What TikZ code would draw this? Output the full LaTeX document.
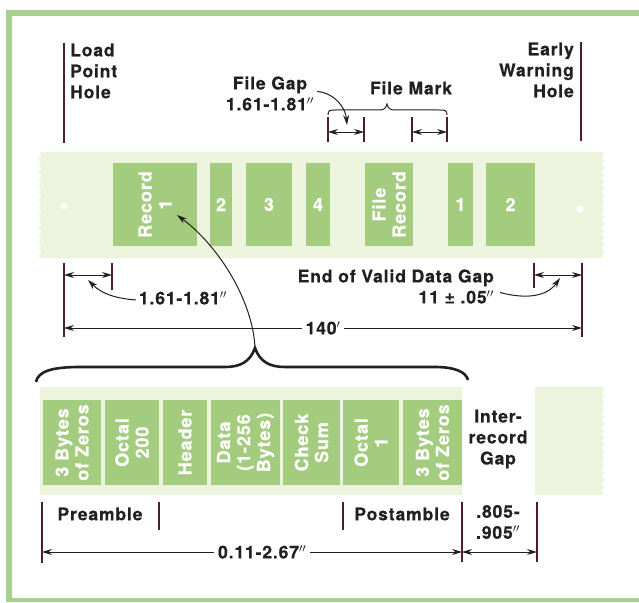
\documentclass[tikz,border=0pt]{standalone}
\usepackage{fontspec}
\setmainfont{TeX Gyre Heros}[LetterSpace=5, BoldFeatures={FakeBold=0.5}]
\usetikzlibrary{arrows.meta,decorations.pathmorphing,positioning}
\definecolor{mframe}{HTML}{A8D08C}
\definecolor{mtape}{HTML}{EDF4DE}
\definecolor{mblock}{HTML}{A3CC7F}
\definecolor{mink}{HTML}{231F20}
\definecolor{mline}{HTML}{4B1E30}
\tikzstyle{lbl}=[text=mink, font=\fontsize{17.5}{21}\selectfont\bfseries, align=center, inner sep=0pt]
\tikzstyle{blk}=[fill=mblock, text=white, font=\fontsize{18}{20}\selectfont\bfseries, align=center, inner sep=0pt]
\tikzstyle{vblk}=[blk, rotate=90]
\tikzstyle{bar}=[mline, line width=1.1pt]
\tikzstyle{dim}=[mink, line width=0.9pt, >={Stealth[length=10pt,width=6pt]}, <->]
\tikzstyle{callout}=[mink, line width=1pt, >={Stealth[length=10pt,width=6pt]}, ->]
\tikzstyle{wavy}=[decoration={zigzag, segment length=7pt, amplitude=1.5pt}]

\begin{document}
\begin{tikzpicture}[x=1pt, y=1pt]
    \useasboundingbox (0,0) rectangle (639,602);
    % frame
    \fill[mframe] (6,0) rectangle (12,592) (6,586) rectangle (639,592) (6,0) rectangle (639,4);

    % holes on the tape
    \draw[bar] (64,559) -- (64,459);
    \draw[bar] (581,560) -- (581,461);
    \node (loadtxt) [lbl, align=left, anchor=west] at (70,531) {Load\\Point\\Hole};
    \node (warntxt) [lbl, align=right, anchor=east] at (574,532) {Early\\Warning\\Hole};

    % file gap and file mark
    \node (fgtxt) [lbl] at (270,508.5) {File Gap\\1.61-1.81$''$};
    \node (fmtxt) [lbl] at (411,514) {File Mark};
    \draw[mink, line width=1pt] (328,487) .. controls (328,492) and (330,492) .. (336,492) -- (380,492) .. controls (384,492) and (386,494) .. (387,498) .. controls (388,494) and (390,492) .. (394,492) -- (439,492) .. controls (445,492) and (447,492) .. (447,487);
    \coordinate (fg1) at (328,470);
    \coordinate (fg2) at (364,470);
    \coordinate (fm1) at (412,470);
    \coordinate (fm2) at (447,470);
    \coordinate (fgtip) at (347,477);
    \draw[bar] (fg1) ++(0,15) -- +(0,-25);
    \draw[bar] (fg2) ++(0,15) -- +(0,-25);
    \draw[bar] (fm1) ++(0,15) -- +(0,-25);
    \draw[bar] (fm2) ++(0,15) -- +(0,-25);
    \draw[dim] (fg1) -- (fg2);
    \draw[dim] (fm1) -- (fm2);
    \draw[callout] ([xshift=3pt,yshift=2pt]fgtxt.east) to[out=-5, in=95] (fgtip);

    % the tape
    \fill[mtape] (40,344) decorate[wavy]{-- (40,450)} -- (603,450) decorate[wavy]{-- (603,344)} -- cycle;
    \fill[white] (64,396) circle (3.5) (580,393) circle (3.5);
    \node (rec1) [vblk, minimum width=83, minimum height=84] at (155,397.5) {Record\\1};
    \node (rec2) [blk, minimum width=22, minimum height=83] at (221,397.5) {2};
    \node (rec3) [blk, minimum width=46, minimum height=83] at (269,397.5) {3};
    \node (rec4) [blk, minimum width=24, minimum height=83] at (318,397.5) {4};
    \node (frec) [vblk, minimum width=83, minimum height=48] at (389,397.5) {File\\Record};
    \node (frec1) [blk, minimum width=25, minimum height=83] at (460.5,397.5) {1};
    \node (frec2) [blk, minimum width=49, minimum height=83] at (510.5,397.5) {2};

    % gaps at both ends
    \coordinate (lp1) at (64,327);
    \coordinate (lp2) at (112,327);
    \coordinate (ew1) at (534,327);
    \coordinate (ew2) at (582,327);
    \coordinate (lptip) at (88,322);
    \coordinate (ewtip) at (560,324);
    \draw[bar] (lp1) ++(0,12) -- +(0,-74);
    \draw[bar] (lp2) ++(0,12) -- +(0,-27);
    \draw[bar] (ew1) ++(0,12) -- +(0,-25);
    \draw[bar] (ew2) ++(0,12) -- +(0,-74);
    \draw[dim] (lp1) -- (lp2);
    \draw[dim] (ew1) -- (ew2);
    \node (gaptxt) [lbl] at (183,304) {1.61-1.81$''$};
    \node (evdtxt) [lbl, align=right, anchor=east] at (494,315.5) {End of Valid Data Gap\\11 ± .05$''$};
    \draw[callout] ([xshift=-3pt,yshift=-2pt]gaptxt.west) to[out=175, in=-45] (lptip);
    \draw[callout] ([xshift=6pt,yshift=-6pt]evdtxt.east) to[out=-15, in=-125] (ewtip);
    \coordinate (t1) at (64,274);
    \coordinate (t2) at (582,274);
    \draw[dim] (t1) -- node[lbl, fill=white, inner xsep=4pt] (tlen) {140$'$} (t2);

    % record expanded
    \coordinate (bracetip) at (255,254);
    \coordinate (rectip) at (177,387);
    \draw[mink, line width=2.6pt] (36,220) .. controls (38,230) and (50,235) .. (80,235) -- (225,235) .. controls (240,235) and (250,240) .. (bracetip) .. controls (260,240) and (270,235) .. (285,235) -- (435,235) .. controls (455,235) and (466,230) .. (468,222);
    \draw[callout] (bracetip) .. controls (253,300) and (220,355) .. (rectip);

    \fill[mtape] (40,107) rectangle (462,215);
    \fill[mtape] (535,107) -- (535,215) -- (603,215) decorate[wavy]{-- (603,107)} -- cycle;
    \node (z1) [vblk, minimum width=85, minimum height=58] at (72,159.5) {3 Bytes\\of Zeros};
    \node (oct200) [vblk, minimum width=85, minimum height=54] at (132,159.5) {Octal\\200};
    \node (hdr) [vblk, minimum width=85, minimum height=44] at (185,159.5) {Header};
    \node (data) [vblk, minimum width=85, minimum height=69] at (245.5,159.5) {Data\\(1-256\\Bytes)};
    \node (chk) [vblk, minimum width=85, minimum height=57] at (311.5,159.5) {Check\\Sum};
    \node (oct1) [vblk, minimum width=85, minimum height=56] at (371,159.5) {Octal\\1};
    \node (z2) [vblk, minimum width=85, minimum height=59] at (432.5,159.5) {3 Bytes\\of Zeros};
    \node (irgtxt) [lbl] at (498,163) {Inter-\\record\\Gap};

    % preamble, postamble
    \coordinate (pre1) at (42,50);
    \coordinate (pre2) at (159,88);
    \coordinate (post1) at (343,88);
    \coordinate (recend) at (462,50);
    \coordinate (irg2) at (537,50);
    \draw[bar] (pre1) ++(0,50) -- +(0,-61);
    \draw[bar] (pre2) ++(0,12) -- +(0,-28);
    \draw[bar] (post1) ++(0,12) -- +(0,-28);
    \draw[bar] (recend) ++(0,50) -- +(0,-60);
    \draw[bar] (irg2) ++(0,50) -- +(0,-60);
    \node (pretxt) [lbl] at (100,88) {Preamble};
    \node (posttxt) [lbl] at (402,88) {Postamble};
    \node (irglen) [lbl] at (498,80) {.805-\\.905$''$};
    \draw[dim] (pre1) -- node[lbl, fill=white, inner xsep=4pt, pos=.524] (reclen) {0.11-2.67$''$} (recend);
    \draw[dim] (recend) -- (irg2);
\end{tikzpicture}
\end{document}
